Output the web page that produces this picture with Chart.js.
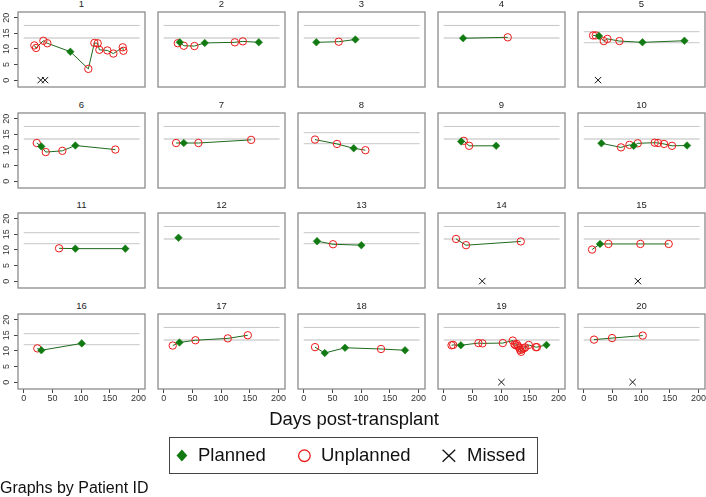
<!DOCTYPE html>
<html>
<head>
<meta charset="utf-8">
<script src="https://cdn.jsdelivr.net/npm/chart.js@4.4.1/dist/chart.umd.min.js"></script>
<style>
html,body{margin:0;padding:0;background:#fff;overflow:hidden;width:706px;height:497px;}
body{position:relative;font-family:"Liberation Sans",Arial,sans-serif;}
canvas{position:absolute;}
.txt{position:absolute;white-space:nowrap;line-height:1;color:#111;}
.pt{position:absolute;text-align:center;font-size:9.5px;line-height:1;color:#222;}
#legend{position:absolute;left:169px;top:437px;width:367px;height:35px;border:1px solid #444;box-sizing:content-box;}
svg{position:absolute;overflow:visible;}
</style>
</head>
<body>
<script>
// ---------------- data ----------------
const patientIds = ['1','2','3','4','5','6','7','8','9','10','11','12','13','14','15','16','17','18','19','20'];

// days post-transplant of each attended visit, per patient
const visitDays = [
  [18.5,21.5,34.2,41.2,81.3,112.7,123.2,129,131.9,145.8,156.3,172.7,173.8],
  [24.5,28,35,53.5,71.5,124,138,165.8],
  [22,61,90],
  [33.8,111.6],
  [16.3,21,26.7,34.9,41.3,62.3,102.4,175.6],
  [22.7,30.7,38.4,67.3,90,159.8],
  [21.6,34.9,60.5,152.4],
  [19.7,58,87.2,107.5],
  [30.3,34.9,44.3,91.4],
  [30.8,65,79.7,87.2,94.2,123.8,129.6,140.1,154,180.2],
  [61.6,90,177.2],
  [25.7],
  [23.2,51.1,100.5],
  [21.5,38.9,134.3],
  [14.5,28.4,43,98.8,148.2],
  [23.7,30.7,101.2],
  [15.7,27.4,55.3,111.7,146.6],
  [19.7,36.6,72,134.8,176.7],
  [13.6,16.5,29.8,60.5,67.5,103,120.4,123.3,125.1,127.4,129.8,132,133.2,135,136.7,139.6,142,148.3,160.6,162.5,179.2],
  [18,49.4,102.9]
];
// haemoglobin value at each visit
const visitHb = [
  [11.1,10.3,12.6,11.8,9.1,3.6,11.9,11.8,9.7,9.5,8.5,10.5,9.4],
  [11.8,12.1,11.0,10.9,11.9,12.1,12.4,12.1],
  [12.1,12.3,13.0],
  [13.4,13.7],
  [14.3,14.3,14.1,12.5,13.2,12.5,12.1,12.6],
  [12.2,11.1,9.3,9.7,11.4,10.1],
  [12.2,12.2,12.2,13.2],
  [13.3,11.9,10.5,9.9],
  [12.7,12.9,11.3,11.3],
  [12.1,10.8,11.6,11.3,12.1,12.3,12.2,11.9,11.3,11.4],
  [10.5,10.4,10.4],
  [13.9],
  [12.8,11.8,11.5],
  [13.5,11.5,12.7],
  [10.1,11.9,11.9,11.9,11.9],
  [10.8,10.2,12.4],
  [11.7,12.7,13.4,14.0,15.0],
  [11.2,9.3,11.0,10.6,10.2],
  [11.8,11.9,11.8,12.5,12.4,12.5,13.3,12.1,11.8,12.2,11.5,11.0,10.3,9.7,10.5,10.8,11.1,11.9,11.2,11.2,11.9],
  [13.6,14.1,14.9]
];
// visit type: P = planned, U = unplanned
const visitType = [
  'UUUUPUUUUUUUU','UPUUPUUP','PUP','PU','UUPUUUPP','UPUUPU','UPUU','UUPU','PUUP','PUUPUUUUUP',
  'UPP','P','PUP','UUU','UPUUU','UPP','UPUUU','UPPUP','UUPUUUUUUUUUUUUUUUUUP','UUU'
];
// days of missed visits (drawn at 0)
const missedDays = [[29.6,37.2],[],[],[],[25],[],[],[],[],[],[],[],[],[67.2],[94.5],[],[],[],[100.6],[85.2]];
// reference range lines
const refUpper = [17.5,17.5,17.5,17.5,15.5,17.5,17.5,15.5,17.5,17.5,15.5,17.5,15.5,17.5,17.5,15.5,17.5,17.5,17.5,17.5];
const refLower = [13.5,13.5,13.5,13.5,12,13.5,13.5,12,13.5,13.5,12,13.5,12,13.5,13.5,12,13.5,13.5,13.5,13.5];
const refSpan = [0,202];
const xTicks = [0,50,100,150,200];
const yTicks = [0,5,10,15,20];

// ---------------- styling / layout ----------------
const GREEN = '#127a12', LINE_GREEN = '#1d6a1d', RED = 'rgb(235,25,25)';
const BOX_L = [18,158,298,438,578], BOX_T = [12,113,213,314], BW = 127, BH = 75;
const X_MIN = -10, X_MAX = 211.5, Y_MIN = -2.2, Y_MAX = 21.8;

Chart.defaults.font.family = "'Liberation Sans', Arial, sans-serif";
Chart.defaults.color = '#333';

const boxPlugin = {
  id: 'panelBox',
  afterDraw(chart) {
    const {ctx, chartArea: a} = chart;
    ctx.save();
    ctx.strokeStyle = '#8c8c8c';
    ctx.lineWidth = 1.3;
    ctx.strokeRect(a.left, a.top, a.right - a.left, a.bottom - a.top);
    ctx.restore();
  }
};

patientIds.forEach((id, i) => {
  const col = i % 5, row = Math.floor(i / 5);
  const showY = col === 0, showX = row === 3;
  const padL = 18, padT = 2, padR = 8, padB = showX ? 24 : 2;
  const w = BW + padL + padR, h = BH + padT + padB;
  const cv = document.createElement('canvas');
  cv.width = w; cv.height = h;
  cv.style.left = (BOX_L[col] - padL) + 'px';
  cv.style.top = (BOX_T[row] - padT) + 'px';
  cv.style.width = w + 'px'; cv.style.height = h + 'px';
  document.body.appendChild(cv);

  const t = document.createElement('div');
  t.className = 'pt';
  t.textContent = id;
  t.style.left = BOX_L[col] + 'px';
  t.style.width = BW + 'px';
  t.style.top = (BOX_T[row] - 12.6) + 'px';
  document.body.appendChild(t);

  const pts = visitDays[i].map((d, k) => ({x: d, y: visitHb[i][k], t: visitType[i][k]}))
                          .sort((a, b) => a.x - b.x);

  new Chart(cv, {
    type: 'scatter',
    data: {
      datasets: [
        {label: 'Planned', data: pts.filter(p => p.t === 'P'), pointStyle: 'rectRot', pointRadius: 3.8,
         backgroundColor: GREEN, borderColor: GREEN, borderWidth: 0.5, order: 0},
        {label: 'Unplanned', data: pts.filter(p => p.t === 'U'), pointStyle: 'circle', pointRadius: 3.7,
         backgroundColor: 'rgba(0,0,0,0)', borderColor: RED, borderWidth: 1, order: 0},
        {label: 'Missed', data: missedDays[i].map(d => ({x: d, y: 0})), pointStyle: 'crossRot', pointRadius: 4.5,
         borderColor: '#111', borderWidth: 1, order: 0},
        {label: 'Hb', data: pts, showLine: true, pointRadius: 0, borderColor: LINE_GREEN, borderWidth: 1, order: 1},
        {label: 'upper', data: refSpan.map(d => ({x: d, y: refUpper[i]})), showLine: true, pointRadius: 0,
         borderColor: '#c6c6c6', borderWidth: 1, order: 2},
        {label: 'lower', data: refSpan.map(d => ({x: d, y: refLower[i]})), showLine: true, pointRadius: 0,
         borderColor: '#d2d2d2', borderWidth: 1.4, order: 2}
      ]
    },
    options: {
      responsive: false, animation: false, events: [],
      layout: {autoPadding: false, padding: {left: showY ? 0 : padL, top: padT, right: padR, bottom: showX ? 0 : padB}},
      plugins: {legend: {display: false}, tooltip: {enabled: false}},
      scales: {
        x: {
          type: 'linear', min: X_MIN, max: X_MAX, display: showX,
          afterBuildTicks: s => { s.ticks = xTicks.map(v => ({value: v})); },
          afterFit: s => {
            s.paddingLeft = 0; s.paddingRight = 0; s.paddingTop = 0; s.paddingBottom = 0;
            s.height = showX ? padB : 0;
          },
          grid: {drawOnChartArea: false, drawTicks: true, tickLength: 4, color: '#444'},
          border: {display: false},
          ticks: {font: {size: 9}, color: '#333', padding: 0, maxRotation: 0, autoSkip: false}
        },
        y: {
          type: 'linear', min: Y_MIN, max: Y_MAX, display: showY,
          afterBuildTicks: s => { s.ticks = yTicks.map(v => ({value: v})); },
          afterFit: s => {
            s.paddingLeft = 0; s.paddingRight = 0; s.paddingTop = 0; s.paddingBottom = 0;
            s.width = showY ? padL : 0;
          },
          grid: {drawOnChartArea: false, drawTicks: true, tickLength: 4, color: '#444'},
          border: {display: false},
          ticks: {font: {size: 9}, color: '#333', padding: 2, minRotation: 90, maxRotation: 90, crossAlign: 'center', autoSkip: false}
        }
      }
    },
    plugins: [boxPlugin]
  });
});
</script>

<div class="txt" style="left:154px;width:400px;text-align:center;top:410.3px;font-size:18.5px;">Days post-transplant</div>

<div id="legend"></div>
<svg style="left:0;top:0;width:706px;height:497px;" width="706" height="497">
  <polygon points="181.9,449.6 187.3,455.6 181.9,461.6 176.5,455.6" fill="#127a12"/>
  <circle cx="304.4" cy="455.7" r="5.8" fill="none" stroke="rgb(235,25,25)" stroke-width="1.3"/>
  <line x1="442.6" y1="449.7" x2="455.2" y2="461.7" stroke="#111" stroke-width="1.3"/>
  <line x1="455.2" y1="449.7" x2="442.6" y2="461.7" stroke="#111" stroke-width="1.3"/>
</svg>
<div class="txt" style="left:198px;top:446px;font-size:18.5px;">Planned</div>
<div class="txt" style="left:321px;top:446px;font-size:18.5px;">Unplanned</div>
<div class="txt" style="left:467px;top:446px;font-size:18.5px;">Missed</div>

<div class="txt" style="left:0px;top:480px;font-size:16px;">Graphs by Patient ID</div>
</body>
</html>
